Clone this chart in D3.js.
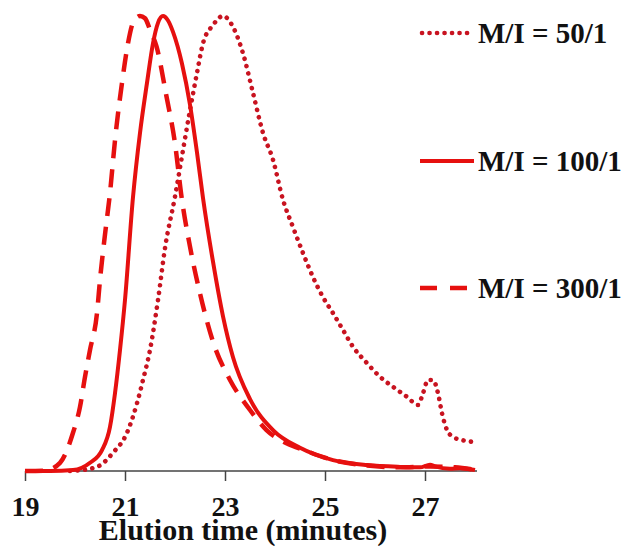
<!DOCTYPE html>
<html>
<head>
<meta charset="utf-8">
<script src="https://cdn.jsdelivr.net/npm/d3@7"></script>
<style>
  html, body { margin: 0; padding: 0; background: #fff; }
  svg { display: block; }
  text { font-family: "Liberation Serif", "Times New Roman", serif; font-weight: bold; fill: #111; }
</style>
</head>
<body>
<svg id="chart" width="629" height="546"></svg>
<script>
// Elution profiles (normalised detector response) for three monomer/initiator ratios
const seriesLabels = ["M/I = 50/1", "M/I = 100/1", "M/I = 300/1"];

const time50 = [19.9, 20.04, 20.44, 20.76, 21.04, 21.24, 21.36, 21.5, 21.66, 21.8, 22.0, 22.16, 22.3, 22.44, 22.56, 22.76, 22.96, 23.16, 23.36, 23.56, 23.76, 23.96, 24.16, 24.36, 24.56, 24.76, 24.96, 25.16, 25.36, 25.56, 25.84, 26.1, 26.36, 26.64, 26.86, 26.96, 27.06, 27.16, 27.26, 27.34, 27.44, 27.56, 27.74, 27.96];
const signal50 = [0, 0.001, 0.009, 0.04, 0.084, 0.149, 0.2, 0.266, 0.376, 0.49, 0.603, 0.705, 0.793, 0.875, 0.94, 0.98, 1.0, 0.976, 0.918, 0.831, 0.743, 0.684, 0.596, 0.536, 0.479, 0.426, 0.382, 0.347, 0.31, 0.273, 0.237, 0.207, 0.185, 0.163, 0.145, 0.171, 0.2, 0.2, 0.171, 0.127, 0.09, 0.075, 0.068, 0.064];

const time100 = [19.0, 19.5, 19.96, 20.3, 20.54, 20.7, 20.8, 20.9, 21.0, 21.16, 21.3, 21.44, 21.56, 21.66, 21.76, 21.86, 21.96, 22.14, 22.3, 22.44, 22.56, 22.76, 22.96, 23.16, 23.5, 23.96, 24.5, 25.16, 25.84, 26.5, 26.9, 27.1, 27.2, 27.5, 27.7, 28.0];
const signal100 = [0, 0, 0.002, 0.018, 0.046, 0.097, 0.171, 0.266, 0.376, 0.602, 0.743, 0.853, 0.94, 0.985, 1.0, 0.99, 0.965, 0.895, 0.805, 0.7, 0.6, 0.46, 0.34, 0.25, 0.158, 0.09, 0.051, 0.024, 0.013, 0.009, 0.008, 0.014, 0.01, 0.005, 0.006, 0.002];

const time300 = [19.0, 19.4, 19.7, 19.96, 20.1, 20.2, 20.3, 20.44, 20.5, 20.6, 20.7, 20.8, 20.94, 21.06, 21.16, 21.3, 21.4, 21.5, 21.63, 21.83, 22.0, 22.13, 22.3, 22.5, 22.77, 23.1, 23.5, 23.83, 24.23, 24.6, 25.16, 25.84, 26.5, 27.1, 27.6, 28.0];
const signal300 = [0, 0.001, 0.018, 0.084, 0.141, 0.207, 0.266, 0.347, 0.42, 0.52, 0.611, 0.727, 0.853, 0.94, 0.985, 1.0, 0.995, 0.97, 0.933, 0.823, 0.72, 0.603, 0.493, 0.39, 0.281, 0.2, 0.134, 0.09, 0.061, 0.045, 0.024, 0.012, 0.008, 0.01, 0.008, 0.003];

const tickValues = [19, 21, 23, 25, 27];
const axisTitle = "Elution time (minutes)";

const svg = d3.select("#chart");
const x = d3.scaleLinear().domain([19, 28]).range([25, 475]);
const y = d3.scaleLinear().domain([0, 1]).range([471, 16]);

const red = "#e6100f";
const darkRed = "#c81320";

const styles = [
  { color: darkRed, width: 4.6, dash: "0.1 7.4", cap: "round" },
  { color: red, width: 4, dash: null, cap: "butt" },
  { color: red, width: 4.5, dash: "18 11", cap: "butt" }
];

const series = [
  d3.zip(time50, signal50),
  d3.zip(time100, signal100),
  d3.zip(time300, signal300)
];

const line = d3.line()
  .x(d => x(d[0]))
  .y(d => y(d[1]))
  .curve(d3.curveMonotoneX);

// x axis
const axis = d3.axisBottom(x)
  .tickValues(tickValues)
  .tickFormat(d3.format("d"))
  .tickSize(10)
  .tickSizeOuter(0);

const gAxis = svg.append("g")
  .attr("transform", "translate(0,471)")
  .call(axis);
gAxis.select(".domain").attr("stroke", "#444").attr("stroke-width", 1.5)
  .attr("d", `M${x(19)},0H477`);
gAxis.selectAll(".tick line").attr("stroke", "#444").attr("stroke-width", 1.5);
gAxis.selectAll(".tick text")
  .attr("y", 45)
  .attr("dy", 0)
  .style("font-family", '"Liberation Serif", "Times New Roman", serif')
  .style("font-weight", "bold")
  .style("font-size", "28px")
  .attr("fill", "#111");

svg.append("text")
  .attr("x", 243)
  .attr("y", 540)
  .attr("text-anchor", "middle")
  .style("font-size", "30px")
  .text(axisTitle);

// curves
series.forEach((pts, i) => {
  const s = styles[i];
  svg.append("path")
    .datum(pts)
    .attr("d", line)
    .attr("fill", "none")
    .attr("stroke", s.color)
    .attr("stroke-width", s.width)
    .attr("stroke-linecap", s.cap)
    .attr("stroke-linejoin", "round")
    .attr("stroke-dasharray", s.dash);
});

// legend
const legendY = [33, 161, 288];
seriesLabels.forEach((label, i) => {
  const s = styles[i];
  const g = svg.append("g").attr("transform", `translate(0,${legendY[i]})`);
  g.append("line")
    .attr("x1", i === 0 ? 422 : 420)
    .attr("x2", i === 1 ? 474 : 468)
    .attr("y1", 0).attr("y2", 0)
    .attr("stroke", s.color)
    .attr("stroke-width", s.width)
    .attr("stroke-linecap", s.cap)
    .attr("stroke-dasharray", i === 2 ? "17 13" : s.dash);
  g.append("text")
    .attr("x", 478)
    .attr("y", 10)
    .style("font-size", "29px")
    .text(label);
});
</script>
</body>
</html>
